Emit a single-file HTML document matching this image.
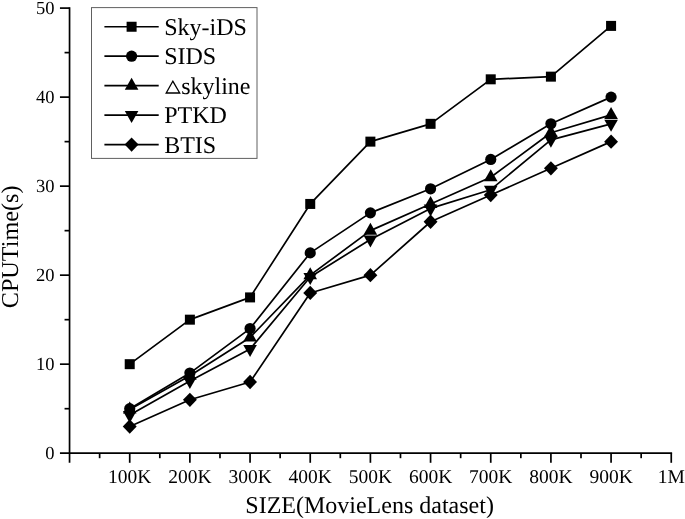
<!DOCTYPE html>
<html><head><meta charset="utf-8"><style>
html,body{margin:0;padding:0;background:#fff;}
body{width:685px;height:519px;overflow:hidden;font-family:"Liberation Serif",serif;}
svg{display:block;will-change:transform;text-rendering:geometricPrecision;}
</style></head><body>
<svg width="685" height="519" viewBox="0 0 685 519">
<g stroke="#000" stroke-width="1.7" fill="none" stroke-linecap="butt">
<line x1="69.55" y1="7.25" x2="69.55" y2="462.80"/>
<line x1="59.95" y1="453.2" x2="672.10" y2="453.2"/>
<line x1="64.55" y1="408.69" x2="69.55" y2="408.69"/>
<line x1="59.95" y1="364.18" x2="69.55" y2="364.18"/>
<line x1="64.55" y1="319.67" x2="69.55" y2="319.67"/>
<line x1="59.95" y1="275.16" x2="69.55" y2="275.16"/>
<line x1="64.55" y1="230.65" x2="69.55" y2="230.65"/>
<line x1="59.95" y1="186.14" x2="69.55" y2="186.14"/>
<line x1="64.55" y1="141.63" x2="69.55" y2="141.63"/>
<line x1="59.95" y1="97.12" x2="69.55" y2="97.12"/>
<line x1="64.55" y1="52.61" x2="69.55" y2="52.61"/>
<line x1="59.95" y1="8.10" x2="69.55" y2="8.10"/>
<line x1="99.63" y1="453.2" x2="99.63" y2="458.20"/>
<line x1="129.72" y1="453.2" x2="129.72" y2="462.80"/>
<line x1="159.81" y1="453.2" x2="159.81" y2="458.20"/>
<line x1="189.89" y1="453.2" x2="189.89" y2="462.80"/>
<line x1="219.98" y1="453.2" x2="219.98" y2="458.20"/>
<line x1="250.06" y1="453.2" x2="250.06" y2="462.80"/>
<line x1="280.14" y1="453.2" x2="280.14" y2="458.20"/>
<line x1="310.23" y1="453.2" x2="310.23" y2="462.80"/>
<line x1="340.31" y1="453.2" x2="340.31" y2="458.20"/>
<line x1="370.40" y1="453.2" x2="370.40" y2="462.80"/>
<line x1="400.49" y1="453.2" x2="400.49" y2="458.20"/>
<line x1="430.57" y1="453.2" x2="430.57" y2="462.80"/>
<line x1="460.66" y1="453.2" x2="460.66" y2="458.20"/>
<line x1="490.74" y1="453.2" x2="490.74" y2="462.80"/>
<line x1="520.83" y1="453.2" x2="520.83" y2="458.20"/>
<line x1="550.91" y1="453.2" x2="550.91" y2="462.80"/>
<line x1="581.00" y1="453.2" x2="581.00" y2="458.20"/>
<line x1="611.08" y1="453.2" x2="611.08" y2="462.80"/>
<line x1="641.16" y1="453.2" x2="641.16" y2="458.20"/>
<line x1="671.25" y1="453.2" x2="671.25" y2="462.80"/>
</g>
<g font-family="Liberation Serif" font-size="18.5" text-anchor="end" fill="#000">
<text x="54.4" y="459.20">0</text>
<text x="54.4" y="370.18">10</text>
<text x="54.4" y="281.16">20</text>
<text x="54.4" y="192.14">30</text>
<text x="54.4" y="103.12">40</text>
<text x="54.4" y="14.10">50</text>
</g>
<g font-family="Liberation Serif" font-size="19.5" text-anchor="middle" fill="#000">
<text x="129.72" y="483.1">100K</text>
<text x="189.89" y="483.1">200K</text>
<text x="250.06" y="483.1">300K</text>
<text x="310.23" y="483.1">400K</text>
<text x="370.40" y="483.1">500K</text>
<text x="430.57" y="483.1">600K</text>
<text x="490.74" y="483.1">700K</text>
<text x="550.91" y="483.1">800K</text>
<text x="611.08" y="483.1">900K</text>
<text x="671.25" y="483.1">1M</text>
</g>
<text x="369.6" y="512.7" font-family="Liberation Serif" font-size="24" text-anchor="middle">SIZE(MovieLens dataset)</text>
<text transform="translate(18.3,246.85) rotate(-90)" font-family="Liberation Serif" font-size="24.2" text-anchor="middle">CPUTime(s)</text>
<g stroke="#000" stroke-width="1.7" fill="none" stroke-linejoin="round">
<polyline points="129.72,364.18 189.89,319.67 250.06,297.41 310.23,203.94 370.40,141.63 430.57,123.83 490.74,79.32 550.91,76.65 611.08,25.90"/>
<polyline points="129.72,408.69 189.89,373.08 250.06,328.57 310.23,252.91 370.40,212.85 430.57,188.81 490.74,159.43 550.91,123.83 611.08,97.12"/>
<polyline points="129.72,409.58 189.89,375.75 250.06,337.47 310.23,275.16 370.40,230.65 430.57,203.94 490.74,177.24 550.91,132.73 611.08,114.92"/>
<polyline points="129.72,414.92 189.89,381.09 250.06,349.05 310.23,276.94 370.40,239.55 430.57,208.40 490.74,189.70 550.91,139.85 611.08,123.83"/>
<polyline points="129.72,426.49 189.89,399.79 250.06,381.98 310.23,292.96 370.40,275.16 430.57,221.75 490.74,195.04 550.91,168.34 611.08,141.63"/>
</g>
<g fill="#000">
<rect x="124.72" y="359.18" width="10" height="10"/>
<rect x="184.89" y="314.67" width="10" height="10"/>
<rect x="245.06" y="292.41" width="10" height="10"/>
<rect x="305.23" y="198.94" width="10" height="10"/>
<rect x="365.40" y="136.63" width="10" height="10"/>
<rect x="425.57" y="118.83" width="10" height="10"/>
<rect x="485.74" y="74.32" width="10" height="10"/>
<rect x="545.91" y="71.65" width="10" height="10"/>
<rect x="606.08" y="20.90" width="10" height="10"/>
<circle cx="129.72" cy="408.69" r="5.6"/>
<circle cx="189.89" cy="373.08" r="5.6"/>
<circle cx="250.06" cy="328.57" r="5.6"/>
<circle cx="310.23" cy="252.91" r="5.6"/>
<circle cx="370.40" cy="212.85" r="5.6"/>
<circle cx="430.57" cy="188.81" r="5.6"/>
<circle cx="490.74" cy="159.43" r="5.6"/>
<circle cx="550.91" cy="123.83" r="5.6"/>
<circle cx="611.08" cy="97.12" r="5.6"/>
<path d="M129.72 401.58L136.52 413.58L122.92 413.58Z"/>
<path d="M189.89 367.75L196.69 379.75L183.09 379.75Z"/>
<path d="M250.06 329.47L256.86 341.47L243.26 341.47Z"/>
<path d="M310.23 267.16L317.03 279.16L303.43 279.16Z"/>
<path d="M370.40 222.65L377.20 234.65L363.60 234.65Z"/>
<path d="M430.57 195.94L437.37 207.94L423.77 207.94Z"/>
<path d="M490.74 169.24L497.54 181.24L483.94 181.24Z"/>
<path d="M550.91 124.73L557.71 136.73L544.11 136.73Z"/>
<path d="M611.08 106.92L617.88 118.92L604.28 118.92Z"/>
<path d="M129.72 422.92L136.52 410.92L122.92 410.92Z"/>
<path d="M189.89 389.09L196.69 377.09L183.09 377.09Z"/>
<path d="M250.06 357.05L256.86 345.05L243.26 345.05Z"/>
<path d="M310.23 284.94L317.03 272.94L303.43 272.94Z"/>
<path d="M370.40 247.55L377.20 235.55L363.60 235.55Z"/>
<path d="M430.57 216.40L437.37 204.40L423.77 204.40Z"/>
<path d="M490.74 197.70L497.54 185.70L483.94 185.70Z"/>
<path d="M550.91 147.85L557.71 135.85L544.11 135.85Z"/>
<path d="M611.08 131.83L617.88 119.83L604.28 119.83Z"/>
<path d="M129.72 419.34L136.67 426.49L129.72 433.64L122.77 426.49Z"/>
<path d="M189.89 392.64L196.84 399.79L189.89 406.94L182.94 399.79Z"/>
<path d="M250.06 374.83L257.01 381.98L250.06 389.13L243.11 381.98Z"/>
<path d="M310.23 285.81L317.18 292.96L310.23 300.11L303.28 292.96Z"/>
<path d="M370.40 268.01L377.35 275.16L370.40 282.31L363.45 275.16Z"/>
<path d="M430.57 214.60L437.52 221.75L430.57 228.90L423.62 221.75Z"/>
<path d="M490.74 187.89L497.69 195.04L490.74 202.19L483.79 195.04Z"/>
<path d="M550.91 161.19L557.86 168.34L550.91 175.49L543.96 168.34Z"/>
<path d="M611.08 134.48L618.03 141.63L611.08 148.78L604.13 141.63Z"/>
</g>
<rect x="91.5" y="7.6" width="165.5" height="150.8" fill="#fff" stroke="#606060" stroke-width="1"/>
<g stroke="#000" stroke-width="1.7">
<line x1="104.4" y1="26.75" x2="158.7" y2="26.75"/>
<line x1="104.4" y1="56.2" x2="158.7" y2="56.2"/>
<line x1="104.4" y1="85.7" x2="158.7" y2="85.7"/>
<line x1="104.4" y1="115.1" x2="158.7" y2="115.1"/>
<line x1="104.4" y1="144.6" x2="158.7" y2="144.6"/>
</g>
<g fill="#000">
<rect x="126.60" y="21.75" width="10" height="10"/>
<circle cx="131.60" cy="56.20" r="5.6"/>
<path d="M131.60 77.70L138.40 89.70L124.80 89.70Z"/>
<path d="M131.60 123.10L138.40 111.10L124.80 111.10Z"/>
<path d="M131.60 137.45L138.55 144.60L131.60 151.75L124.65 144.60Z"/>
</g>
<g font-family="Liberation Serif" font-size="24" fill="#000">
<text x="164.2" y="34.95">Sky-iDS</text>
<text x="164.2" y="64.40">SIDS</text>
<path d="M172.8 81.20L179.7 93.00L166.2 93.00Z" fill="none" stroke="#000" stroke-width="1.3"/>
<text x="181.2" y="93.90">skyline</text>
<text x="164.2" y="123.30">PTKD</text>
<text x="164.2" y="152.80">BTIS</text>
</g>
</svg>
</body></html>
